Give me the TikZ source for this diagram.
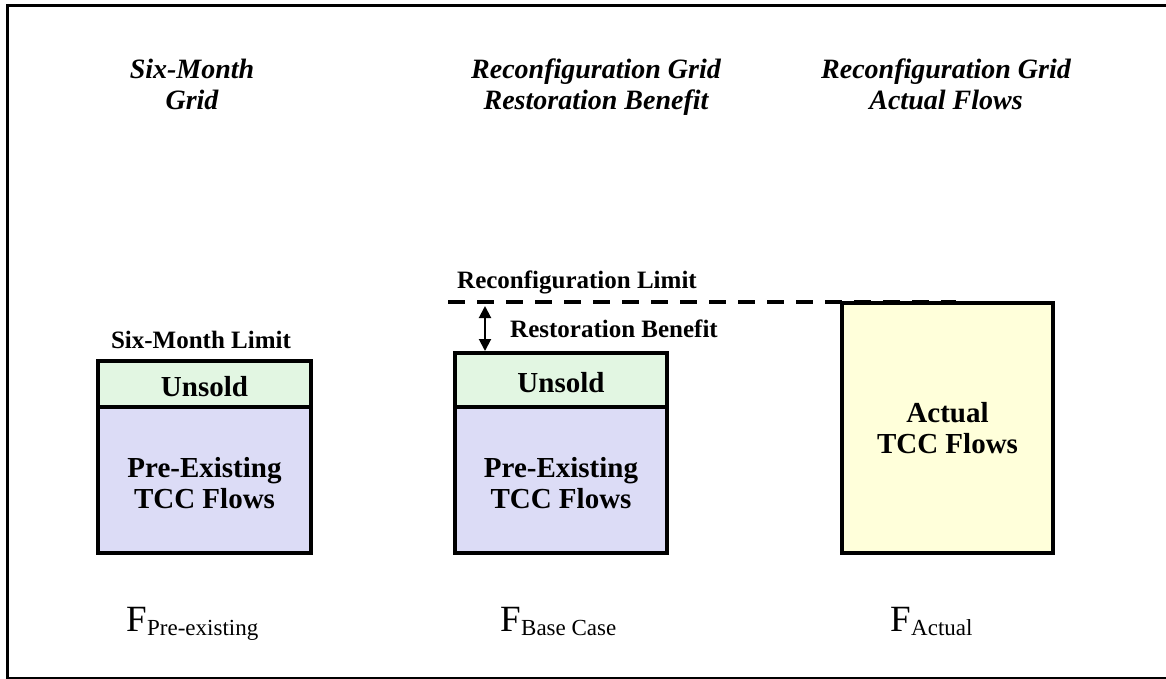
\documentclass[tikz,border=0pt]{standalone}
\usepackage{fontspec}
\setmainfont{Liberation Serif}
\usetikzlibrary{arrows.meta}

\definecolor{unsoldfill}{HTML}{E2F6E2}
\definecolor{preexfill}{HTML}{DCDCF6}
\definecolor{actualfill}{HTML}{FFFFDA}

\tikzset{
  frameline/.style={line width=3pt, line cap=rect},
  flowbox/.style={draw=black, line width=4pt, inner sep=0pt, outer sep=0pt},
  title/.style={font=\fontsize{28}{31}\selectfont\bfseries\itshape, inner sep=0pt, anchor=base},
  boxtext/.style={font=\fontsize{29}{31}\selectfont\bfseries, inner sep=0pt, anchor=base},
  limittext/.style={font=\fontsize{25}{28}\selectfont\bfseries, inner sep=0pt},
  flowvar/.style={font=\fontsize{37}{40}\selectfont, inner sep=0pt, anchor=base west},
  flowsub/.style={font=\fontsize{23}{26}\selectfont, inner sep=0pt, anchor=base west},
  limitline/.style={line width=4.5pt, dash pattern=on 17pt off 12pt},
  gaparrow/.style={line width=2pt, {Triangle[length=12pt,width=12pt]}-{Triangle[length=12pt,width=12pt]}}
}

\begin{document}
\begin{tikzpicture}[x=1pt, y=-1pt]
\useasboundingbox (0,0) rectangle (1166,679);

% outer frame (its right side lies beyond the page)
\draw[frameline] (1190,6) -- (7,6) -- (7,678) -- (1190,678);

% column titles
\node[title] (t1a) at (192,79) {Six-Month};
\node[title] (t1b) at (192,110) {Grid};
\node[title] (t2a) at (596,79) {Reconfiguration Grid};
\node[title] (t2b) at (596,110) {Restoration Benefit};
\node[title] (t3a) at (946,79) {Reconfiguration Grid};
\node[title] (t3b) at (946,110) {Actual Flows};

% six-month grid column
\node[flowbox, fill=unsoldfill, minimum width=213pt, minimum height=46pt] (u1) at (204.5,384) {};
\node[flowbox, fill=preexfill, minimum width=213pt, minimum height=146pt] (p1) at (204.5,480) {};
\node[limittext, anchor=base] (l1) at (201,348) {Six-Month Limit};
\node[boxtext] (u1t) at (204.5,396) {Unsold};
\node[boxtext] (p1a) at (204.5,477) {Pre-Existing};
\node[boxtext] (p1b) at (204.5,508) {TCC Flows};

% restoration benefit column
\node[flowbox, fill=unsoldfill, minimum width=212pt, minimum height=54pt] (u2) at (561,380) {};
\node[flowbox, fill=preexfill, minimum width=212pt, minimum height=146pt] (p2) at (561,480) {};
\node[boxtext] (u2t) at (561,392) {Unsold};
\node[boxtext] (p2a) at (561,477) {Pre-Existing};
\node[boxtext] (p2b) at (561,508) {TCC Flows};

% actual flows column
\node[flowbox, fill=actualfill, minimum width=211pt, minimum height=250pt] (a3) at (947.5,428) {};
\node[boxtext] (a3a) at (947.5,422) {Actual};
\node[boxtext] (a3b) at (947.5,453) {TCC Flows};

% reconfiguration limit and restoration benefit
\coordinate (limL) at (448,302);
\coordinate (limR) at (956,302);
\draw[limitline] (limL) -- (limR);
\node[limittext, anchor=base west] (rl) at (457,288) {Reconfiguration Limit};
\coordinate (benTop) at (485,306);
\coordinate (benBot) at (485,351);
\draw[gaparrow] (benTop) -- (benBot);
\node[limittext, anchor=base west] (rb) at (510,337) {Restoration Benefit};

% flow variables
\node[flowvar] (f1) at (126,631) {F};
\node[flowsub] (f1s) at ([yshift=-4pt]f1.base east) {Pre-existing};
\node[flowvar] (f2) at (500,631) {F};
\node[flowsub] (f2s) at ([yshift=-4pt]f2.base east) {Base Case};
\node[flowvar] (f3) at (890,631) {F};
\node[flowsub] (f3s) at ([yshift=-4pt]f3.base east) {Actual};
\end{tikzpicture}
\end{document}
